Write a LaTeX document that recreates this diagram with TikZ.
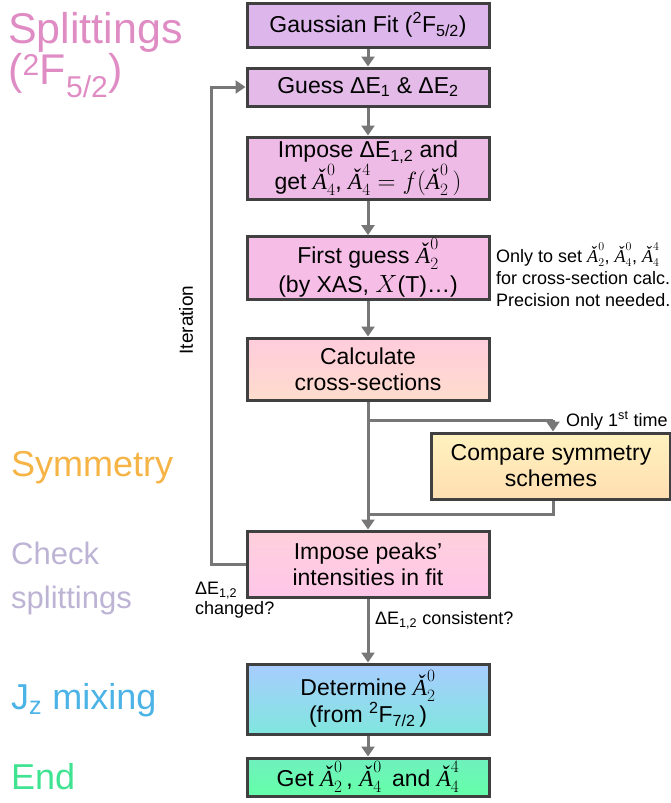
\documentclass[tikz,border=0pt]{standalone}
\usepackage{fontspec}
\setmainfont{Liberation Sans}
\newfontfamily\serifit{Liberation Serif}[ItalicFont=* Italic]
\usetikzlibrary{arrows.meta,positioning}
\definecolor{bordc}{HTML}{404040}
\definecolor{linec}{HTML}{777777}
\definecolor{cpink}{HTML}{E08CC4}
\definecolor{corange}{HTML}{F5B445}
\definecolor{clav}{HTML}{BDB3D4}
\definecolor{cblue}{HTML}{4BB3E6}
\definecolor{cgreen}{HTML}{3FE391}
\newcommand{\Acc}{\mbox{\serifit\itshape Ǎ\/}}
\newcommand{\Ac}[2]{\(\Acc^{#2}_{#1}\)}
\tikzset{
  box/.style={draw=bordc, line width=3pt, minimum width=242pt, align=center, inner sep=2pt,
    font=\fontsize{23}{26}\selectfont},
  conn/.style={draw=linec, line width=3pt},
  arr/.style={conn, -{Triangle[width=13pt,length=10pt]}},
  side/.style={anchor=west, align=left},
  note/.style={font=\fontsize{18}{22}\selectfont, align=left}
}
\begin{document}
\begin{tikzpicture}[x=1pt,y=-1pt]
\useasboundingbox (0,0) rectangle (670,803);
% boxes
\node[box, fill={rgb,255:red,221;green,183;blue,235}, minimum height=44pt] (b1) at (368,25) {Gaussian Fit (\textsuperscript{2}F\textsubscript{5/2})};
\node[box, fill={rgb,255:red,227;green,186;blue,232}, minimum height=38pt] (b2) at (368,87) {Guess ΔE\textsubscript{1} \& ΔE\textsubscript{2}};
\node[box, fill={rgb,255:red,237;green,187;blue,230}, minimum height=62pt] (b3) at (368,168) {Impose ΔE\textsubscript{1,2} and\\get \Ac{4}{0}, \(\Acc^4_4 = f(\Acc^0_2\,)\)};
\node[box, fill={rgb,255:red,246;green,190;blue,230}, minimum height=60pt] (b4) at (368,268) {First guess \Ac{2}{0}\\[3pt](by XAS, \(X\)(T)\ldots)};
\node[box, top color={rgb,255:red,255;green,204;blue,220}, bottom color={rgb,255:red,255;green,220;blue,205}, minimum height=62pt] (b5) at (368,369) {Calculate\\cross-sections};
\node[box, minimum width=239pt, top color={rgb,255:red,255;green,242;blue,190}, bottom color={rgb,255:red,255;green,222;blue,178}, minimum height=66pt] (b6) at (551,466) {Compare symmetry\\schemes};
\node[box, top color={rgb,255:red,255;green,208;blue,220}, bottom color={rgb,255:red,255;green,198;blue,232}, minimum height=66pt] (b7) at (368,564) {Impose peaks’\\intensities in fit};
\node[box, top color={rgb,255:red,168;green,204;blue,255}, bottom color={rgb,255:red,128;green,230;blue,222}, minimum height=70pt] (b8) at (368,699) {Determine \Ac{2}{0}\\(from \textsuperscript{2}F\textsubscript{7/2}\,)};
\node[box, top color={rgb,255:red,112;green,240;blue,190}, bottom color={rgb,255:red,100;green,255;blue,168}, minimum height=38pt] (b9) at (368,777) {Get \Ac{2}{0}\,, \Ac{4}{0}\, and \Ac{4}{4}};
% coordinates
\coordinate (br) at (368,420);
\coordinate (brr) at (553,420);
\coordinate (rj) at (368,514);
\coordinate (rjr) at (553,514);
\coordinate (lp1) at (211,564);
\coordinate (lp2) at (211,87);
% connectors
\draw[arr] (b1) -- (b2);
\draw[arr] (b2) -- (b3);
\draw[arr] (b3) -- (b4);
\draw[arr] (b4) -- (b5);
\draw[arr] (b5) -- (b7);
\draw[conn] (br) -- (brr);
\draw[arr] (brr) -- (b6.north -| brr);
\draw[conn] (b6.south -| rjr) -- (rjr) -- (rj);
\draw[arr] (b7.west) -- (lp1) -- (lp2) -- (b2.west);
\draw[arr] (b7) -- (b8);
\draw[arr] (b8) -- (b9);
% notes
\node[note, anchor=north west, inner sep=1pt] (n1) at (495,242) {Only to set \Ac{2}{0}, \Ac{4}{0}, \Ac{4}{4}\\for cross-section calc.\\Precision not needed.};
\node[note, anchor=south west, inner sep=1pt] (n2) at (565,431) {Only 1\textsuperscript{st} time};
\node[note, anchor=north west, inner sep=1pt, font=\fontsize{18}{20}\selectfont] (n3) at (194,581) {ΔE\textsubscript{1,2}\\changed?};
\node[note, anchor=west, inner sep=1pt] (n4) at (374,620) {ΔE\textsubscript{1,2} consistent?};
\node[font=\fontsize{19}{22}\selectfont, rotate=90] (it) at (186,320) {Iteration};
% side labels
\node[side, text=cpink, font=\fontsize{43}{39}\selectfont, anchor=north west, inner sep=0pt] (s1) at (8,12) {Splittings\\(\textsuperscript{2}F\textsubscript{5/2})};
\node[side, text=corange, font=\fontsize{36}{40}\selectfont, inner sep=0pt] (s2) at (11,468) {Symmetry};
\node[side, text=clav, font=\fontsize{31}{44}\selectfont, inner sep=0pt] (s3) at (11,578) {Check\\splittings};
\node[side, text=cblue, font=\fontsize{36}{40}\selectfont, inner sep=0pt] (s4) at (11,700) {J\textsubscript{z} mixing};
\node[side, text=cgreen, font=\fontsize{36}{40}\selectfont, inner sep=0pt] (s5) at (11,777) {End};
\end{tikzpicture}
\end{document}
